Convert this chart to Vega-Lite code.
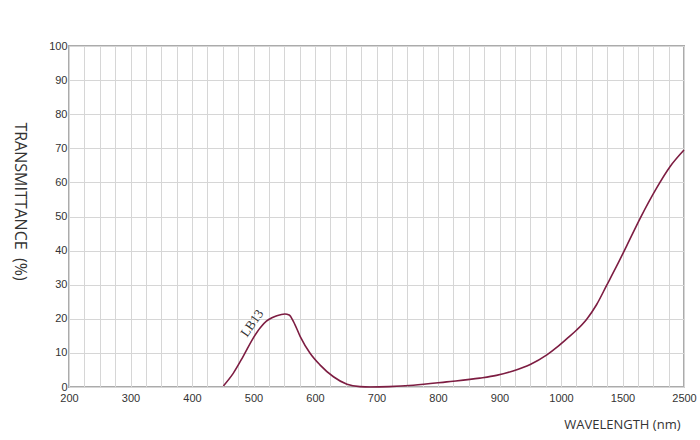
{
  "$schema": "https://vega.github.io/schema/vega-lite/v6.json",
  "width": 615,
  "height": 341,
  "autosize": {"type": "none"},
  "padding": {"left": 69, "top": 46, "right": 16, "bottom": 53},
  "background": "white",
  "config": {
    "view": {"stroke": "#ababab", "strokeWidth": 2},
    "axis": {
      "domain": false,
      "ticks": false,
      "gridColor": "#d6d6d6",
      "gridWidth": 1,
      "labelFont": "Liberation Sans",
      "labelFontSize": 11,
      "labelColor": "#333333",
      "titleFont": "Open Sans",
      "titleFontWeight": "normal",
      "titleColor": "#333333"
    }
  },
  "datasets": {
    "curve": [
      {"wavelength": 451, "transmittance": 0.3},
      {"wavelength": 467, "transmittance": 4.0},
      {"wavelength": 483, "transmittance": 8.9},
      {"wavelength": 500, "transmittance": 14.5},
      {"wavelength": 511, "transmittance": 17.4},
      {"wavelength": 521, "transmittance": 19.3},
      {"wavelength": 530, "transmittance": 20.3},
      {"wavelength": 538, "transmittance": 20.9},
      {"wavelength": 551, "transmittance": 21.4},
      {"wavelength": 558, "transmittance": 21.1},
      {"wavelength": 565, "transmittance": 19.2},
      {"wavelength": 576, "transmittance": 14.8},
      {"wavelength": 592, "transmittance": 9.9},
      {"wavelength": 608, "transmittance": 6.5},
      {"wavelength": 630, "transmittance": 3.0},
      {"wavelength": 652, "transmittance": 0.8},
      {"wavelength": 673, "transmittance": 0.1},
      {"wavelength": 690, "transmittance": 0.0},
      {"wavelength": 720, "transmittance": 0.1},
      {"wavelength": 760, "transmittance": 0.5},
      {"wavelength": 814, "transmittance": 1.5},
      {"wavelength": 868, "transmittance": 2.6},
      {"wavelength": 895, "transmittance": 3.4},
      {"wavelength": 922, "transmittance": 4.7},
      {"wavelength": 950, "transmittance": 6.6},
      {"wavelength": 977, "transmittance": 9.4},
      {"wavelength": 993, "transmittance": 11.6},
      {"wavelength": 1046, "transmittance": 14.1},
      {"wavelength": 1127, "transmittance": 16.7},
      {"wavelength": 1209, "transmittance": 19.9},
      {"wavelength": 1290, "transmittance": 24.2},
      {"wavelength": 1371, "transmittance": 29.8},
      {"wavelength": 1453, "transmittance": 35.5},
      {"wavelength": 1568, "transmittance": 41.4},
      {"wavelength": 1785, "transmittance": 49.4},
      {"wavelength": 2056, "transmittance": 58.4},
      {"wavelength": 2272, "transmittance": 64.6},
      {"wavelength": 2500, "transmittance": 69.5}
    ],
    "labels": [
      {"wavelength": 498, "transmittance": 18.7, "name": "LB13"}
    ]
  },
  "encoding": {
    "x": {
      "field": "wavelength",
      "type": "quantitative",
      "scale": {
        "type": "linear",
        "domain": [200, 1000, 1500, 2500],
        "range": [0, 492, 553.5, 615],
        "nice": false,
        "zero": false,
        "clamp": true
      },
      "axis": {
        "title": "WAVELENGTH (nm)",
        "titleFontSize": 13,
        "titleX": 611,
        "titleY": 37,
        "titleAlign": "right",
        "titleBaseline": "middle",
        "titleAnchor": null,
        "labelPadding": 5,
        "labelOverlap": false,
        "labelFlush": false,
        "format": "d",
        "labelExpr": "(datum.value <= 1000 && datum.value % 100 == 0) || datum.value == 1500 || datum.value == 2500 ? datum.label : ''",
        "values": [200, 225, 250, 275, 300, 325, 350, 375, 400, 425, 450, 475, 500, 525, 550, 575, 600, 625, 650, 675, 700, 725, 750, 775, 800, 825, 850, 875, 900, 925, 950, 975, 1000, 1125, 1250, 1375, 1500, 1750, 2000, 2250, 2500]
      }
    },
    "y": {
      "field": "transmittance",
      "type": "quantitative",
      "scale": {"domain": [0, 100], "nice": false, "zero": true},
      "axis": {
        "title": "TRANSMITTANCE\u00a0\u00a0(%)",
        "titleFontSize": 16,
        "titleAngle": 90,
        "titleX": -50,
        "titleY": 155,
        "titleAlign": "center",
        "titleBaseline": "middle",
        "titleAnchor": null,
        "labelPadding": 2,
        "values": [0, 10, 20, 30, 40, 50, 60, 70, 80, 90, 100]
      }
    }
  },
  "layer": [
    {
      "data": {"name": "curve"},
      "mark": {"type": "line", "color": "#7d1d42", "strokeWidth": 1.6, "interpolate": "monotone"}
    },
    {
      "data": {"name": "labels"},
      "mark": {"type": "text", "font": "Liberation Serif", "fontSize": 13, "angle": -55, "color": "#333333", "align": "center", "baseline": "middle"},
      "encoding": {"text": {"field": "name"}}
    }
  ]
}
